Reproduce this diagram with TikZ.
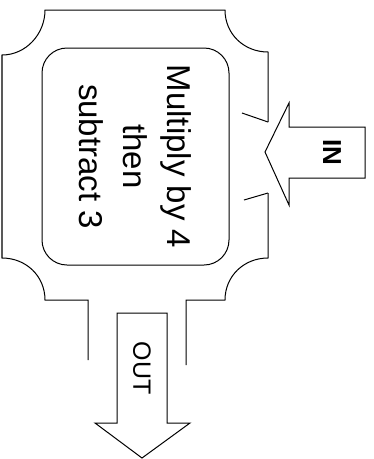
\documentclass[tikz,border=0pt]{standalone}
\usepackage{fontspec}
\setmainfont{Liberation Sans}
\usepackage{tikz}
\usetikzlibrary{positioning}

\begin{document}
\begin{tikzpicture}[x=1pt,y=-1pt,line width=1pt,
  pnode/.style={draw,rectangle,rounded corners=25pt,rotate=-90,align=center,
    minimum width=217pt,minimum height=187pt,inner sep=0pt,
    font=\fontsize{33}{44}\selectfont},
  tnode/.style={rotate=-90,inner sep=0pt,font=\fontsize{25}{30}\selectfont},
  every path/.style={line join=miter}]

\useasboundingbox (0,0) rectangle (374,459);

% machine body
\draw (268,122) -- (268,52) .. controls (244,52) and (225,34) .. (225,10)
  -- (45,10) .. controls (45,34) and (26,55) .. (2,55)
  -- (2,258) .. controls (26,258) and (45,276) .. (45,300)
  -- (88,300) -- (88,360);
\draw (186,365) -- (186,300) -- (225,300)
  .. controls (225,276) and (244,258) .. (268,258) -- (268,193);
\draw (268,122) -- (242,113);
\draw (268,193) -- (244,200);

\node (proc) [pnode] at (135.5,156.5) {Multiply by 4\\then\\subtract 3};

% in and out
\draw (365,127) -- (289,127) -- (289,103) -- (265,152) -- (289,205)
  -- (289,178) -- (365,178) -- cycle;
\node (in) [tnode, font=\fontsize{26}{30}\selectfont\bfseries] at (332,152) {IN};

\draw (117,313) -- (167,313) -- (167,423) -- (190,423) -- (142,458)
  -- (95,423) -- (117,423) -- cycle;
\node (out) [tnode] at (142,368) {OUT};
\end{tikzpicture}
\end{document}
